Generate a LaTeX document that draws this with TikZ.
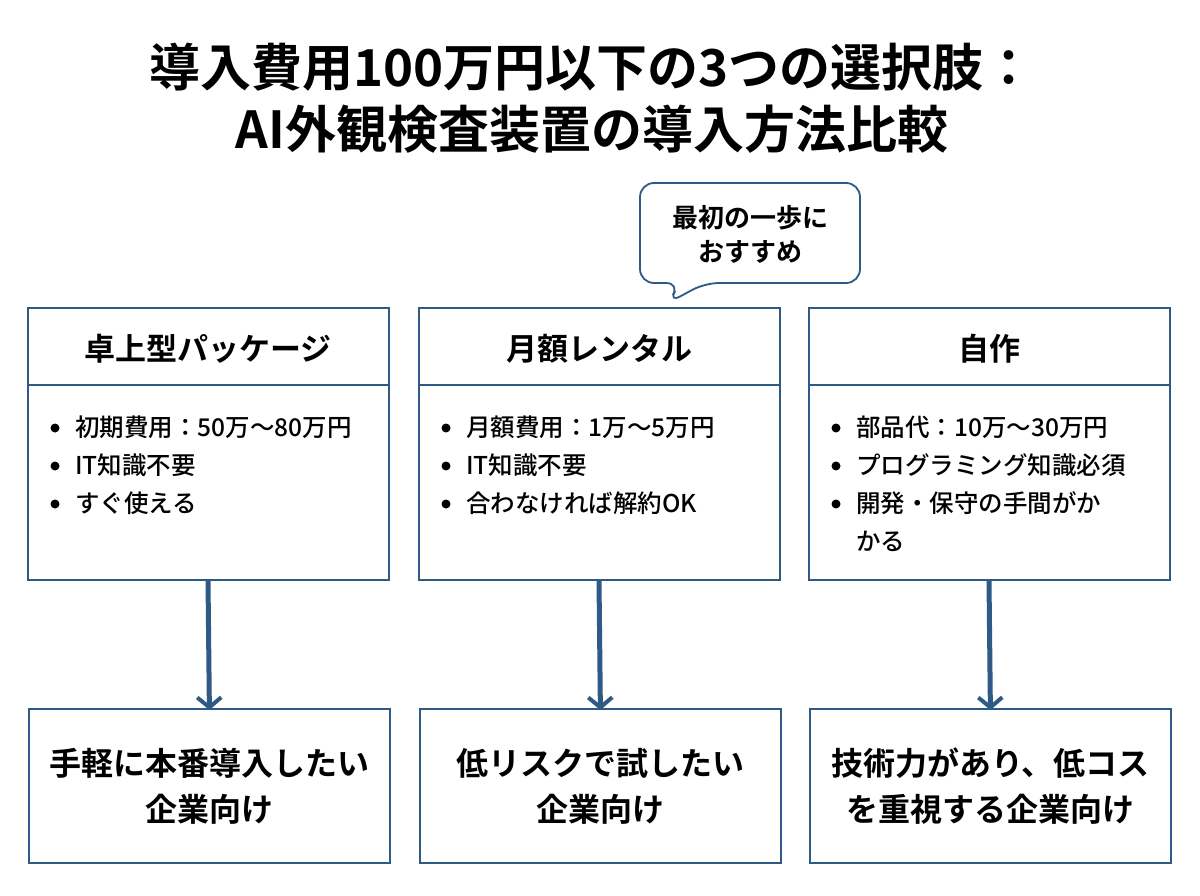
\documentclass[tikz,border=0pt]{standalone}
\usepackage{fontspec}
\usetikzlibrary{arrows.meta}
\setmainfont{Noto Sans CJK JP}[BoldFont={Noto Sans CJK JP Bold}]
\newfontfamily\medfont{Noto Sans CJK JP Medium}
\definecolor{bc}{HTML}{2F5A85}
\begin{document}
\begin{tikzpicture}[x=1pt,y=-1pt,
 box/.style={draw=bc,line width=1.8pt,fill=white},
 hd/.style={font=\fontsize{31}{36}\selectfont\bfseries,anchor=center},
 bd/.style={font=\medfont\fontsize{24.5}{38}\selectfont,anchor=north west,align=left,inner sep=0},
 bt/.style={font=\fontsize{32}{46}\selectfont\bfseries,align=center},
 arr/.style={draw=bc,line width=5pt,-{Straight Barb[length=10pt,width=24pt,line width=4pt]}}]
\useasboundingbox (0,0) rectangle (1200,896);
\fill[white] (0,0) rectangle (1200,896);
\node[font=\fontsize{51}{62}\selectfont\bfseries,align=center] (title) at (592,98) {導入費用100万円以下の3つの選択肢：\\AI外観検査装置の導入方法比較};
% bubble
\draw[box,rounded corners=14pt] (640,183) -- (860,183) -- (860,283) -- (705,283) -- (668,303) -- (680,283) -- (640,283) -- cycle;
\node[font=\fontsize{26}{34}\selectfont\bfseries,align=center] (bub) at (750,234) {最初の一歩に\\おすすめ};
\foreach \i/\x/\h/\b/\f in {L/28/卓上型パッケージ/{初期費用：50万～80万円\\IT知識不要\\すぐ使える}/{手軽に本番導入したい\\企業向け},
 M/419/月額レンタル/{月額費用：1万～5万円\\IT知識不要\\合わなければ解約OK}/{低リスクで試したい\\企業向け},
 R/809/自作/{部品代：10万～30万円\\プログラミング知識必須\\開発・保守の手間がか\\かる}/{技術力があり、低コス\\を重視する企業向け}}{
 \draw[box] (\x,308) rectangle (\x+361,580);
 \draw[bc,line width=1.8pt] (\x,385) -- (\x+361,385);
 \node[hd] (h\i) at (\x+180,349) {\h};
 \node[bd] (b\i) at (\x+47,416) {\b};
 \foreach \k in {0,1,2}{\fill (\x+27,428+38*\k) circle (4.5pt);}
 \node[box,minimum width=361pt,minimum height=154pt,anchor=north west] (f\i) at (\x,708) {};
 \node[bt] at (f\i) {\f};
 \coordinate (s\i) at (\x+180,580);
 \draw[arr] (s\i) -- ([yshift=-2pt]f\i.north);
}
\end{tikzpicture}
\end{document}
